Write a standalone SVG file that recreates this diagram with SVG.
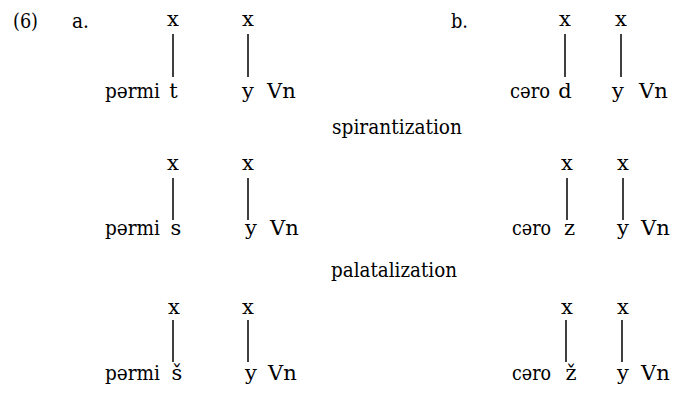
<svg xmlns="http://www.w3.org/2000/svg" width="675" height="394" viewBox="0 0 675 394" font-family="'DejaVu Serif', serif" font-size="21">
<style>
text{fill:#000}
.m{text-anchor:middle}
line{stroke:#000;stroke-width:1.5}
</style>
<rect width="675" height="394" fill="#fff"/>
<g id="labels">
<text x="13" y="28" textLength="25" lengthAdjust="spacingAndGlyphs">(6)</text>
<text x="72" y="28" textLength="17" lengthAdjust="spacingAndGlyphs">a.</text>
<text x="451" y="28" textLength="17" lengthAdjust="spacingAndGlyphs">b.</text>
<text x="332" y="134" textLength="130" lengthAdjust="spacingAndGlyphs">spirantization</text>
<text x="331" y="277" textLength="126" lengthAdjust="spacingAndGlyphs">palatalization</text>
</g>
<g id="a1">
<text class="m" x="173" y="26">x</text>
<text class="m" x="248" y="26">x</text>
<text x="105" y="98" textLength="55" lengthAdjust="spacingAndGlyphs">pərmi</text>
<text class="m" x="173.5" y="98">t</text>
<text class="m" x="248" y="98">y</text>
<text x="267" y="98">Vn</text>
</g>
<g id="b1">
<text class="m" x="565" y="26">x</text>
<text class="m" x="621" y="26">x</text>
<text x="510" y="98" textLength="40" lengthAdjust="spacingAndGlyphs">cəro</text>
<text class="m" x="565" y="98">d</text>
<text class="m" x="618" y="98">y</text>
<text x="639" y="98">Vn</text>
</g>
<g id="a2">
<text class="m" x="173" y="170">x</text>
<text class="m" x="248" y="170">x</text>
<text x="105" y="235" textLength="55" lengthAdjust="spacingAndGlyphs">pərmi</text>
<text class="m" x="176" y="235">s</text>
<text class="m" x="251" y="235">y</text>
<text x="270" y="235">Vn</text>
</g>
<g id="b2">
<text class="m" x="567" y="170">x</text>
<text class="m" x="623" y="170">x</text>
<text x="512" y="235" textLength="39" lengthAdjust="spacingAndGlyphs">cəro</text>
<text class="m" x="569.5" y="235">z</text>
<text class="m" x="623" y="235">y</text>
<text x="641" y="235">Vn</text>
</g>
<g id="a3">
<text class="m" x="174" y="314">x</text>
<text class="m" x="248" y="314">x</text>
<text x="105" y="380" textLength="55" lengthAdjust="spacingAndGlyphs">pərmi</text>
<text class="m" x="177" y="380">š</text>
<text class="m" x="251" y="380">y</text>
<text x="268" y="380">Vn</text>
</g>
<g id="b3">
<text class="m" x="567" y="314">x</text>
<text class="m" x="623" y="314">x</text>
<text x="512" y="380" textLength="39" lengthAdjust="spacingAndGlyphs">cəro</text>
<text class="m" x="571" y="380">ž</text>
<text class="m" x="623" y="380">y</text>
<text x="641" y="380">Vn</text>
</g>
<g id="connectors">
<line x1="173" y1="34" x2="173" y2="77"/>
<line x1="248" y1="34" x2="248" y2="77"/>
<line x1="565" y1="34" x2="565" y2="77"/>
<line x1="621" y1="34" x2="621" y2="77"/>
<line x1="173" y1="178" x2="173" y2="220"/>
<line x1="248" y1="178" x2="248" y2="220"/>
<line x1="567" y1="178" x2="567" y2="220"/>
<line x1="623" y1="178" x2="623" y2="220"/>
<line x1="173" y1="320" x2="173" y2="362"/>
<line x1="248" y1="320" x2="248" y2="362"/>
<line x1="566" y1="320" x2="566" y2="362"/>
<line x1="622" y1="320" x2="622" y2="362"/>
</g>
</svg>
